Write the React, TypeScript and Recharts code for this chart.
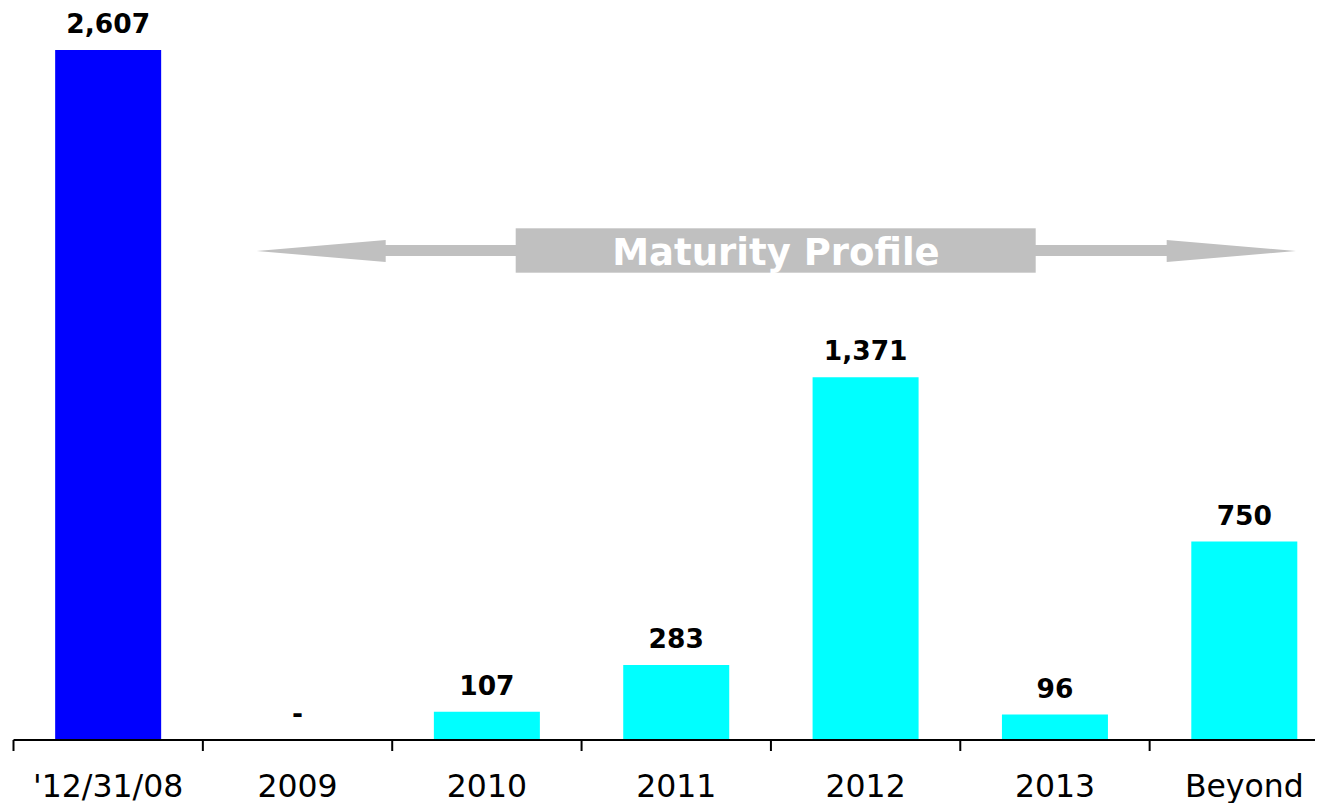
import React from 'react';
import { ComposedChart, Bar, Line, XAxis, YAxis, Cell, LabelList } from 'recharts';

const categories = ["'12/31/08", '2009', '2010', '2011', '2012', '2013', 'Beyond'];
const amounts = [2607, 0, 107, 283, 1371, 96, 750];
const isBalance = [true, false, false, false, false, false, false];

const chartData = categories.map((name, i) => ({ name, value: amounts[i], balance: isBalance[i] }));

const FONT = '"DejaVu Sans", Verdana, sans-serif';
const CHART_W = 1331;
const CHART_H = 795;
const PLOT_LEFT = 5.5;
const BAND = (CHART_W - PLOT_LEFT) / categories.length;

// tick mark sits on the left edge of each category, label centred
const BoundaryTick = (props: any) => {
  const { x, y, payload } = props;
  const half = payload && payload.offset ? payload.offset : BAND / 2;
  return (
    <g>
      <line x1={x - half} y1={y - 11} x2={x - half} y2={y} stroke="#000" strokeWidth={2} />
      <text x={x} y={y} dy={46} textAnchor="middle" fontSize={31.5} fontFamily={FONT} fill="#000">
        {payload.value}
      </text>
    </g>
  );
};

const formatLabel = (v: any) => (Number(v) === 0 ? '-' : Number(v).toLocaleString('en-US'));

// grey double arrow with the "Maturity Profile" caption
const MaturityArrow = () => (
  <svg
    width={1315}
    height={CHART_H}
    style={{ position: 'absolute', left: 0, top: 0, pointerEvents: 'none' }}
  >
    <g fill="#C0C0C0">
      <polygon points="248.7,243 377.7,232 377.7,254" />
      <rect x={377} y={237} width={131} height={11} />
      <rect x={507.7} y={220.3} width={520} height={44.4} />
      <rect x={1027} y={237} width={132} height={11} />
      <polygon points="1288,243 1158.7,232 1158.7,254" />
    </g>
    <text x={768} y={257} textAnchor="middle" fontSize={37} fontWeight="bold" fontFamily={FONT} fill="#fff">
      Maturity Profile
    </text>
  </svg>
);

const App = () => {
  return (
    <div style={{ position: 'relative', width: 1315, height: CHART_H, overflow: 'hidden' }}>
      <ComposedChart
        width={CHART_W}
        height={CHART_H}
        data={chartData}
        margin={{ top: 17.4, right: 0, bottom: 0, left: PLOT_LEFT }}
        barCategoryGap="22%"
      >
        <XAxis
          dataKey="name"
          height={63}
          axisLine={{ stroke: '#000', strokeWidth: 2 }}
          tickLine={false}
          tickSize={11}
          tickMargin={0}
          interval={0}
          tick={<BoundaryTick />}
        />
        <YAxis hide domain={[0, 2700]} />
        <Bar dataKey="value" isAnimationActive={false}>
          {chartData.map((d) => (
            <Cell key={d.name} fill={d.balance ? '#0000FF' : '#00FFFF'} />
          ))}
        </Bar>
        {/* invisible line only carries the value labels, so the zero bar gets its "-" */}
        <Line
          dataKey="value"
          stroke="none"
          dot={false}
          activeDot={false}
          legendType="none"
          isAnimationActive={false}
        >
          <LabelList
            dataKey="value"
            position="top"
            offset={17}
            formatter={formatLabel}
            style={{ fontFamily: FONT, fontSize: 26.5, fontWeight: 'bold', fill: '#000' }}
          />
        </Line>
      </ComposedChart>
      <MaturityArrow />
    </div>
  );
};

export default App;
